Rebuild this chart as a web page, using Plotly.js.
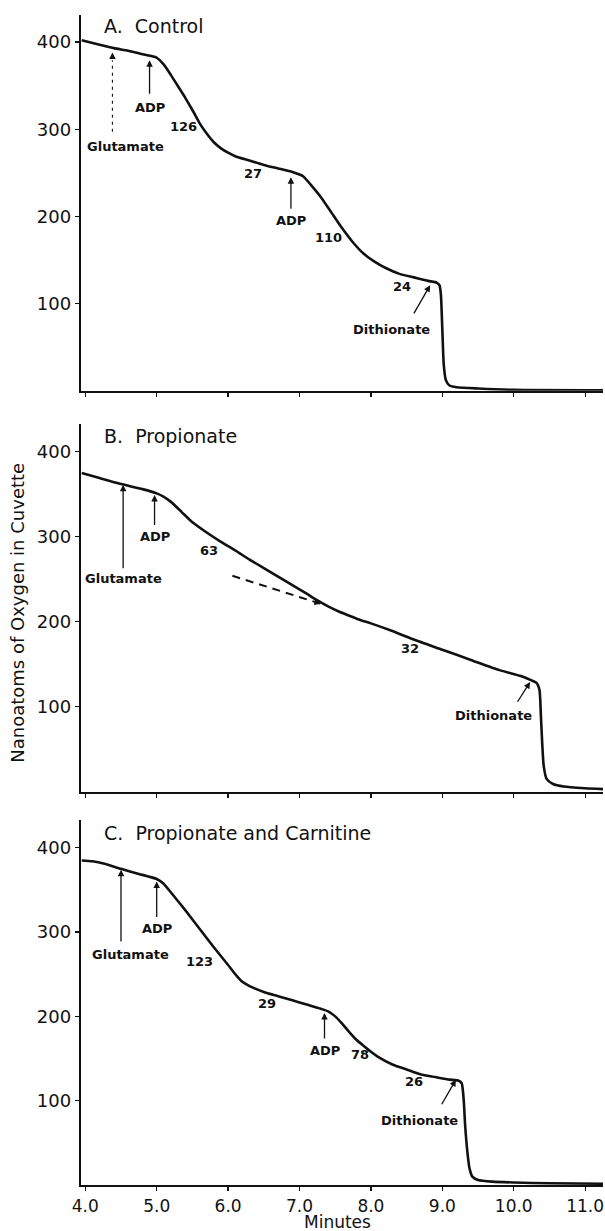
<!DOCTYPE html>
<html>
<head>
<meta charset="utf-8">
<script src="https://cdn.plot.ly/plotly-3.0.1.min.js"></script>
<style>
  html, body { margin: 0; padding: 0; background: #fff; }
  #chart { width: 605px; height: 1231px; }
</style>
</head>
<body>
<div id="chart"></div>
<script>
// ---------- data ----------
const minutesA = [3.95,4.2,4.4,4.6,4.8,4.97,5.0,5.1,5.2,5.3,5.4,5.5,5.6,5.7,5.8,5.9,6.0,6.1,6.3,6.5,6.7,6.9,7.0,7.05,7.15,7.3,7.45,7.6,7.75,7.9,8.05,8.2,8.4,8.6,8.8,8.92,8.96,8.98,9.0,9.02,9.05,9.1,9.2,9.5,10.0,11.25];
const oxygenA  = [402,397,393,390,386,383,382,374,362,349,336,322,307,295,285,278,273,269,264,259,255,251,248,246,237,222,204,186,170,157,148,141,134,130,126,124,121,110,70,30,12,6,4,2.5,1,0.5];

const minutesB = [3.95,4.2,4.5,4.8,5.0,5.1,5.2,5.35,5.5,5.7,5.9,6.1,6.3,6.5,6.7,6.9,7.1,7.25,7.4,7.55,7.7,7.85,8.0,8.3,8.6,9.0,9.4,9.8,10.1,10.25,10.32,10.36,10.38,10.4,10.42,10.46,10.55,10.7,11.0,11.25];
const oxygenB  = [375,369,362,356,351,347,341,329,317,305,294,284,273,263,253,243,233,225,218,212,207,202,198,189,179,167,155,143,136,131,128,120,90,55,30,15,9,6,4,3];

const minutesC = [3.95,4.1,4.27,4.5,4.75,5.0,5.09,5.2,5.4,5.6,5.8,6.0,6.12,6.2,6.3,6.5,6.7,6.9,7.1,7.3,7.4,7.5,7.6,7.7,7.8,7.9,8.0,8.1,8.3,8.5,8.7,8.9,9.1,9.22,9.27,9.3,9.32,9.35,9.38,9.42,9.5,9.7,10.0,10.5,11.25];
const oxygenC  = [385,384,381,375,369,363,358,347,326,304,282,261,248,241,236,229,224,219,214,209,206,200,191,181,172,165,158,152,143,137,131,128,125,124,121,100,70,40,20,10,6,4,3,2,1.5];

// extrapolated slow-rate line in panel B (dashed)
const extrapMinutesB = [6.06, 7.30];
const extrapOxygenB  = [254, 221];

const panelTitles = ['A.&nbsp; Control', 'B.&nbsp; Propionate', 'C.&nbsp; Propionate and Carnitine'];
const xTickVals  = [4,5,6,7,8,9,10,11];
const xTickText  = ['4.0','5.0','6.0','7.0','8.0','9.0','10.0','11.0'];
const yTickVals  = [100,200,300,400];

// additions: [label, arrow x, arrow tip y, arrow tail y, label x, label y]
const additionsA = [
  ['Glutamate', 4.38, 388, 297, 4.56, 280],
  ['ADP',       4.90, 379, 339, 4.90, 325],
  ['ADP',       6.88, 245, 207, 6.88, 195]
];
const additionsB = [
  ['Glutamate', 4.53, 361, 261, 4.54, 251],
  ['ADP',       4.97, 349, 312, 4.97, 300]
];
const additionsC = [
  ['Glutamate', 4.50, 374, 287, 4.64, 273],
  ['ADP',       5.00, 360, 316, 5.00, 304],
  ['ADP',       7.35, 204, 172, 7.35, 160]
];
// dithionate: [tip x, tip y, tail x, tail y, label x, label y]
const dithA = [8.83, 121, 8.59, 87, 8.29, 70];
const dithB = [10.23, 129, 10.04, 104, 9.71, 90];
const dithC = [9.19, 125, 8.98, 94, 8.68, 76];
// rates: [text, x, y]
const ratesA = [['126', 5.37, 303], ['27', 6.35, 249], ['110', 7.40, 176], ['24', 8.43, 120]];
const ratesB = [['63', 5.73, 284], ['32', 8.55, 169]];
const ratesC = [['123', 5.60, 265], ['29', 6.54, 215], ['78', 7.84, 155], ['26', 8.61, 123]];

// ---------- figure ----------
const FONT = 'DejaVu Sans, Liberation Sans, Arial, sans-serif';
const INK = '#111';

function curve(x, y, xa, ya) {
  return { x: x, y: y, xaxis: xa, yaxis: ya, type: 'scatter', mode: 'lines',
           line: { color: INK, width: 2.6, shape: 'spline', smoothing: 0.6 },
           hoverinfo: 'skip', showlegend: false };
}

const traces = [
  curve(minutesA, oxygenA, 'x', 'y'),
  curve(minutesB, oxygenB, 'x2', 'y2'),
  curve(minutesC, oxygenC, 'x3', 'y3'),
  { x: extrapMinutesB, y: extrapOxygenB, xaxis: 'x2', yaxis: 'y2', type: 'scatter', mode: 'lines',
    line: { color: INK, width: 2, dash: '8px,6px' }, hoverinfo: 'skip', showlegend: false }
];

const annotations = [];
const shapes = [];

function arrow(xr, yr, x, y, ax, ay) {
  annotations.push({ xref: xr, yref: yr, axref: xr, ayref: yr, x: x, y: y, ax: ax, ay: ay,
    text: '', showarrow: true, arrowhead: 2, arrowsize: 1, arrowwidth: 1.3, arrowcolor: INK,
    standoff: 0, startstandoff: 0 });
}
function label(xr, yr, t, x, y, size, anchor) {
  annotations.push({ xref: xr, yref: yr, x: x, y: y, text: t, showarrow: false,
    xanchor: anchor || 'center', yanchor: 'middle',
    font: { family: FONT, size: size || 13, color: INK, weight: anchor ? 'normal' : 'bold' } });
}

function panel(xr, yr, adds, dith, rates, title, dashedFirst) {
  adds.forEach((a, i) => {
    if (dashedFirst && i === 0) {
      shapes.push({ type: 'line', xref: xr, yref: yr, x0: a[1], x1: a[1], y0: a[3], y1: a[2] - 9,
        line: { color: INK, width: 1.1, dash: '3px,4px' } });
      arrow(xr, yr, a[1], a[2], a[1], a[2] - 9);
    } else {
      arrow(xr, yr, a[1], a[2], a[1], a[3]);
    }
    label(xr, yr, a[0], a[4], a[5]);
  });
  arrow(xr, yr, dith[0], dith[1], dith[2], dith[3]);
  label(xr, yr, 'Dithionate', dith[4], dith[5]);
  rates.forEach(r => label(xr, yr, r[0], r[1], r[2]));
  label(xr, yr, title, 4.24, 418, 19, 'left');
}

panel('x', 'y', additionsA, dithA, ratesA, panelTitles[0], true);
panel('x2', 'y2', additionsB, dithB, ratesB, panelTitles[1], false);
panel('x3', 'y3', additionsC, dithC, ratesC, panelTitles[2], false);

// arrowhead on the dashed extrapolation line in B
arrow('x2', 'y2', extrapMinutesB[1], extrapOxygenB[1], 7.22, 223.1);

// axis titles
annotations.push({ xref: 'paper', yref: 'paper', x: -0.121, y: 0.489, xanchor: 'center', yanchor: 'middle',
  text: 'Nanoatoms of Oxygen in Cuvette', textangle: -90, showarrow: false,
  font: { family: FONT, size: 18, color: INK } });
annotations.push({ xref: 'paper', yref: 'paper', x: 0.492, y: -0.032, xanchor: 'center', yanchor: 'middle',
  text: 'Minutes', showarrow: false, font: { family: FONT, size: 17, color: INK } });

function xAxis(anchor, labels) {
  return { anchor: anchor, domain: [0, 1], range: [3.94, 11.25], showgrid: false, zeroline: false,
    showline: true, linecolor: INK, linewidth: 2.2, ticks: 'outside', ticklen: 4, tickwidth: 1.3,
    tickcolor: INK, tickvals: xTickVals, ticktext: xTickText, showticklabels: labels,
    tickfont: { family: FONT, size: 17, color: INK }, fixedrange: true };
}
function yAxis(anchor, dom, top) {
  return { anchor: anchor, domain: dom, range: [0, top], showgrid: false, zeroline: false,
    showline: true, linecolor: INK, linewidth: 2.2, ticks: 'outside', ticklen: 4, tickwidth: 1.3,
    tickcolor: INK, tickvals: yTickVals, tickfont: { family: FONT, size: 18, color: INK }, fixedrange: true };
}

const layout = {
  width: 605, height: 1231,
  margin: { l: 81, r: 2, t: 15, b: 46 },
  paper_bgcolor: '#fff', plot_bgcolor: '#fff',
  showlegend: false,
  xaxis:  xAxis('y', false),
  xaxis2: xAxis('y2', false),
  xaxis3: xAxis('y3', true),
  yaxis:  yAxis('x', [0.6789, 1], 431),
  yaxis2: yAxis('x2', [0.3362, 0.6504], 432.6),
  yaxis3: yAxis('x3', [0, 0.312], 433),
  annotations: annotations,
  shapes: shapes
};

Plotly.newPlot('chart', traces, layout, { displayModeBar: false, staticPlot: true });
</script>
</body>
</html>
